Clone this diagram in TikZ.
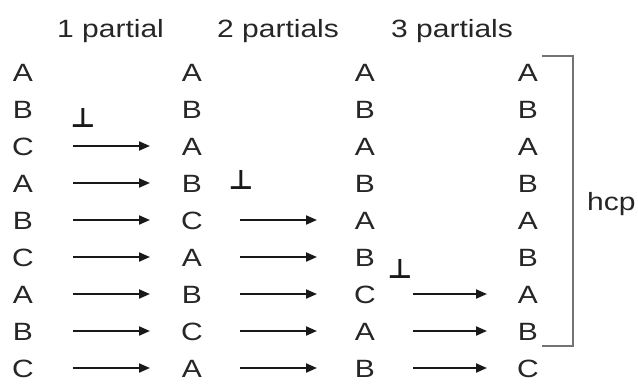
\documentclass[tikz,border=0pt]{standalone}
\usepackage{fontspec}
\setmainfont{Liberation Sans}[FakeStretch=1.2]
\newfontfamily\faultfont{DejaVu Sans}
\usetikzlibrary{arrows.meta}

\tikzset{
  lay/.style={inner sep=0pt, text height=18pt, text depth=0pt,
    font=\fontsize{25}{30}\selectfont, text=black!85},
  fault/.style={inner sep=0pt, font=\fontsize{27}{30}\faultfont\bfseries, text=black!90},
  shiftarr/.style={->, line width=2pt, draw=black!90},
}

\begin{document}
\begin{tikzpicture}[x=1pt, y=-1pt, >={Triangle[length=11pt,width=9pt]}]
  \useasboundingbox (0,0) rectangle (638,386);
  \node[lay, anchor=base west] (h1) at (57,37)  {1 partial};
  \node[lay, anchor=base west] (h2) at (217,37) {2 partials};
  \node[lay, anchor=base west] (h3) at (391,37) {3 partials};
  % stacking columns
  \foreach \l [count=\r] in {A,B,C,A,B,C,A,B,C}
    \node[lay] (a\r) at (23, 35+37*\r) {\l};
  \foreach \l [count=\r] in {A,B,A,B,C,A,B,C,A}
    \node[lay] (b\r) at (192, 35+37*\r) {\l};
  \foreach \l [count=\r] in {A,B,A,B,A,B,C,A,B}
    \node[lay] (c\r) at (365, 35+37*\r) {\l};
  \foreach \l [count=\r] in {A,B,A,B,A,B,A,B,C}
    \node[lay] (d\r) at (528, 35+37*\r) {\l};
  % partial dislocations
  \node[fault, anchor=base] (f1) at (83,127)  {⊥};
  \node[fault, anchor=base] (f2) at (241,189) {⊥};
  \node[fault, anchor=base] (f3) at (400,278) {⊥};
  \foreach \r in {3,...,9}
    \draw[shiftarr, shorten <=50pt, shorten >=42pt] (a\r.center) -- (b\r.center);
  \foreach \r in {5,...,9}
    \draw[shiftarr, shorten <=48pt, shorten >=48pt] (b\r.center) -- (c\r.center);
  \foreach \r in {7,...,9}
    \draw[shiftarr, shorten <=48pt, shorten >=41pt] (c\r.center) -- (d\r.center);
  % hcp bracket
  \coordinate (bt) at (542,56);
  \coordinate (bb) at (542,346);
  \draw[black!55, line width=1.5pt] (bt) -- ++(31,0) |- (bb);
  \node[lay, anchor=base west] (hcp) at (587,210) {hcp};
\end{tikzpicture}
\end{document}
